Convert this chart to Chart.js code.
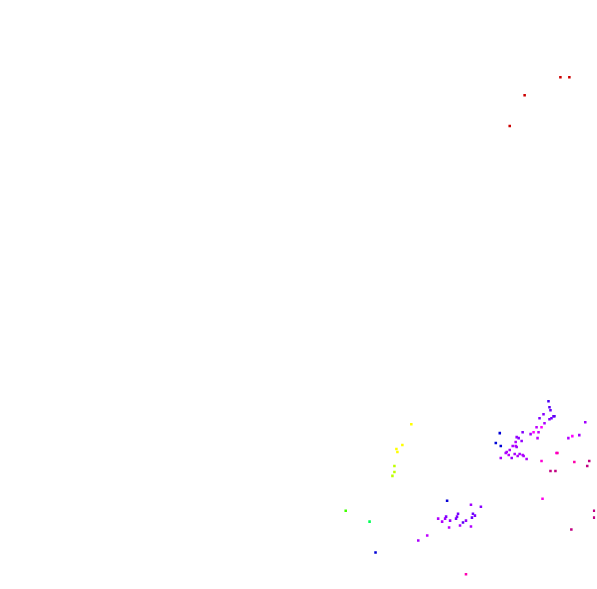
<!DOCTYPE html>
<html>
<head>
<meta charset="utf-8">
<script src="https://cdn.jsdelivr.net/npm/chart.js@4/dist/chart.umd.min.js"></script>
<style>
html,body{margin:0;padding:0;background:#fff;}
#c{display:block;}
</style>
</head>
<body>
<canvas id="c" width="597" height="589"></canvas>
<script>
// x, y positions (plot units) and a colour value (hue degrees) per point
const xs = [
  562,571,526,511,
  412,403,397,398,395,395,393,
  346,370,
  376,448,501,497,502,
  550,551,552,555,553,551,545,541,546,538,543,535,540,532,524,539,518,520,523,517,514,517,518,511,508,507,510,516,519,521,524,525,513,502,528,556,
  587,581,570,574,
  472,482,474,476,459,439,446,447,451,457,458,467,473,464,443,450,461,472,428,419,
  558,543,559,576,544,467,
  591,589,596,596,573,552,557
];
const ys = [
  76,76,94,125,
  425,446,450,453,467,473,477,
  512,523,
  554,502,434,444,447,
  402,408,411,417,419,420,415,419,424,428,428,433,433,435,433,439,438,439,442,443,447,447,448,451,453,454,456,455,457,455,456,457,459,459,460,417,
  423,436,439,437,
  506,508,515,517,515,520,520,518,522,520,518,522,519,524,523,529,527,528,537,542,
  454,462,454,463,500,576,
  462,467,512,519,531,472,472
];
const hues = [
  0,0,0,0,
  60,60,60,60,75,75,75,
  105,140,
  240,242,240,238,240,
  258,262,265,268,266,270,272,270,280,285,300,300,285,278,270,285,275,272,275,282,280,282,278,280,282,280,285,280,282,280,282,280,275,280,282,262,
  278,280,282,300,
  278,272,265,270,268,282,278,270,275,268,270,275,265,262,282,285,280,282,285,280,
  305,310,320,320,305,318,
  332,332,332,332,332,332,332
];

function colorFor(h){
  let l = 50;
  if (h < 30) l = 40;
  else if (h >= 230 && h < 250) l = 42;
  else if (h >= 250 && h < 265) l = 48;
  else if (h >= 330) l = 38;
  const hh = h >= 330 ? 320 : h;
  return 'hsl(' + hh + ',100%,' + l + '%)';
}

const pts = xs.map((x, i) => ({x: x, y: ys[i]}));
const cols = hues.map(colorFor);

new Chart(document.getElementById('c'), {
  type: 'scatter',
  data: {
    datasets: [{
      data: pts,
      backgroundColor: cols,
      borderColor: cols,
      borderWidth: 0,
      pointStyle: 'rect',
      pointRadius: 1.8,
      pointHoverRadius: 1.8
    }]
  },
  options: {
    responsive: false,
    animation: false,
    events: [],
    layout: {padding: 0},
    plugins: {legend: {display: false}, tooltip: {enabled: false}},
    scales: {
      x: {type: 'linear', min: 0, max: 597, display: false},
      y: {type: 'linear', min: 0, max: 589, reverse: true, display: false}
    }
  }
});
</script>
</body>
</html>
